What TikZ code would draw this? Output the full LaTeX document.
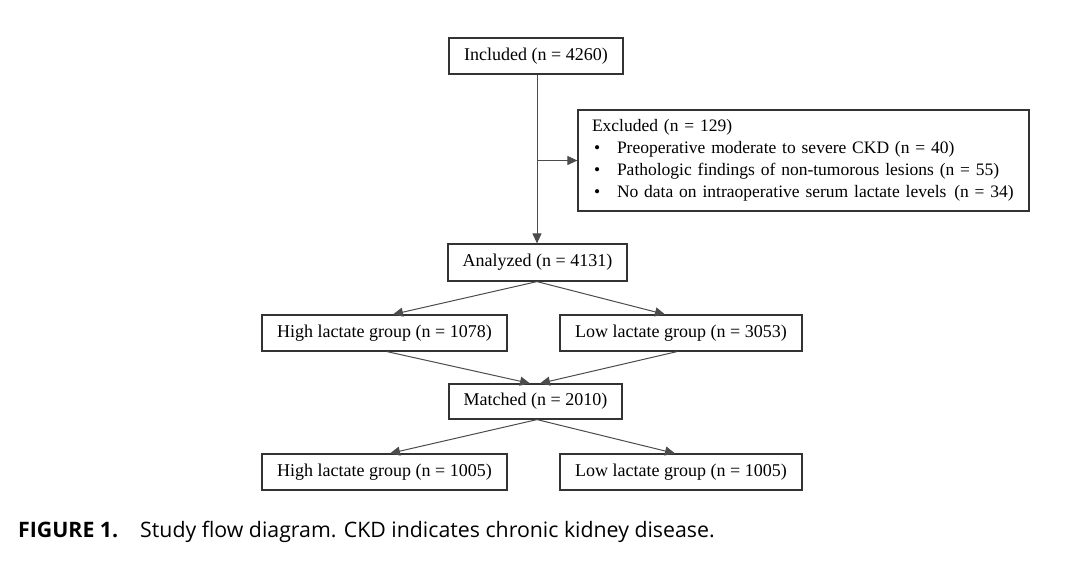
\documentclass[tikz,border=0pt]{standalone}
\usepackage{fontspec}
\setmainfont{Liberation Serif}
\newfontfamily\capfont{Open Sans}
\usetikzlibrary{arrows.meta,calc}
\begin{document}
\begin{tikzpicture}[x=1pt,y=-1pt,
  box/.style={draw=black!80, line width=1.2pt, fill=white, inner sep=0pt, font=\fontsize{18}{22}\selectfont},
  conn/.style={draw=black!70, line width=1pt},
  arr/.style={conn, -{Triangle[length=10pt,width=9pt]}}]
\useasboundingbox (0,0) rectangle (1080,563);
\fill[white] (0,0) rectangle (1080,563);
% nodes
\node[box, minimum width=174pt, minimum height=36pt] (inc) at (536,56) {Included (n = 4260)};
\node[box, minimum width=451pt, minimum height=101pt, text width=423pt, inner xsep=14pt, align=left,
      font=\fontsize{17.5}{22}\selectfont] (exc) at (803.5,160.5)
  {Excluded (n = 129)\\
   \hspace*{2pt}\makebox[23pt][l]{\textbullet}Preoperative moderate to severe CKD (n = 40)\\
   \hspace*{2pt}\makebox[23pt][l]{\textbullet}Pathologic findings of non-tumorous lesions (n = 55)\\
   \hspace*{2pt}\makebox[23pt][l]{\textbullet}\mbox{No data on intraoperative serum lactate levels \hspace{2pt}(n = 34)}};
\node[box, minimum width=179pt, minimum height=37pt] (an) at (537.5,262.5) {Analyzed (n = 4131)};
\node[box, minimum width=245pt, minimum height=36pt] (h1) at (384.5,333) {High lactate group (n = 1078)};
\node[box, minimum width=242pt, minimum height=36pt] (l1) at (681,333) {Low lactate group (n = 3053)};
\node[box, minimum width=173pt, minimum height=35pt] (m) at (535.5,401.5) {Matched (n = 2010)};
\node[box, minimum width=245pt, minimum height=36pt] (h2) at (384.5,472) {High lactate group (n = 1005)};
\node[box, minimum width=242pt, minimum height=36pt] (l2) at (681,472) {Low lactate group (n = 1005)};
% connectors
\coordinate (br) at ([xshift=1pt]inc.south |- exc.west);
\draw[arr] ([xshift=1pt]inc.south) -- ([xshift=1pt]inc.south |- an.north);
\draw[arr] (br) -- (exc.west);
\draw[arr] ([xshift=-0.5pt]an.south) -- ([xshift=8.5pt]h1.north);
\draw[arr] ([xshift=-0.5pt]an.south) -- ([xshift=-16pt]l1.north);
\draw[arr] ([xshift=2.5pt]h1.south) -- ([xshift=-5.5pt]m.north);
\draw[arr] ([xshift=-4pt]l1.south) -- ([xshift=4.5pt]m.north);
\draw[arr] ([xshift=1.5pt]m.south) -- ([xshift=5.5pt]h2.north);
\draw[arr] ([xshift=1.5pt]m.south) -- ([xshift=-6pt]l2.north);
% caption
\node[anchor=base west, inner sep=0pt, font=\capfont\fontsize{21.3}{24}\selectfont] (cap) at (18,537)
  {\textbf{FIGURE 1.}\hspace{22pt}Study flow diagram. CKD indicates chronic kidney disease.};
\end{tikzpicture}
\end{document}
